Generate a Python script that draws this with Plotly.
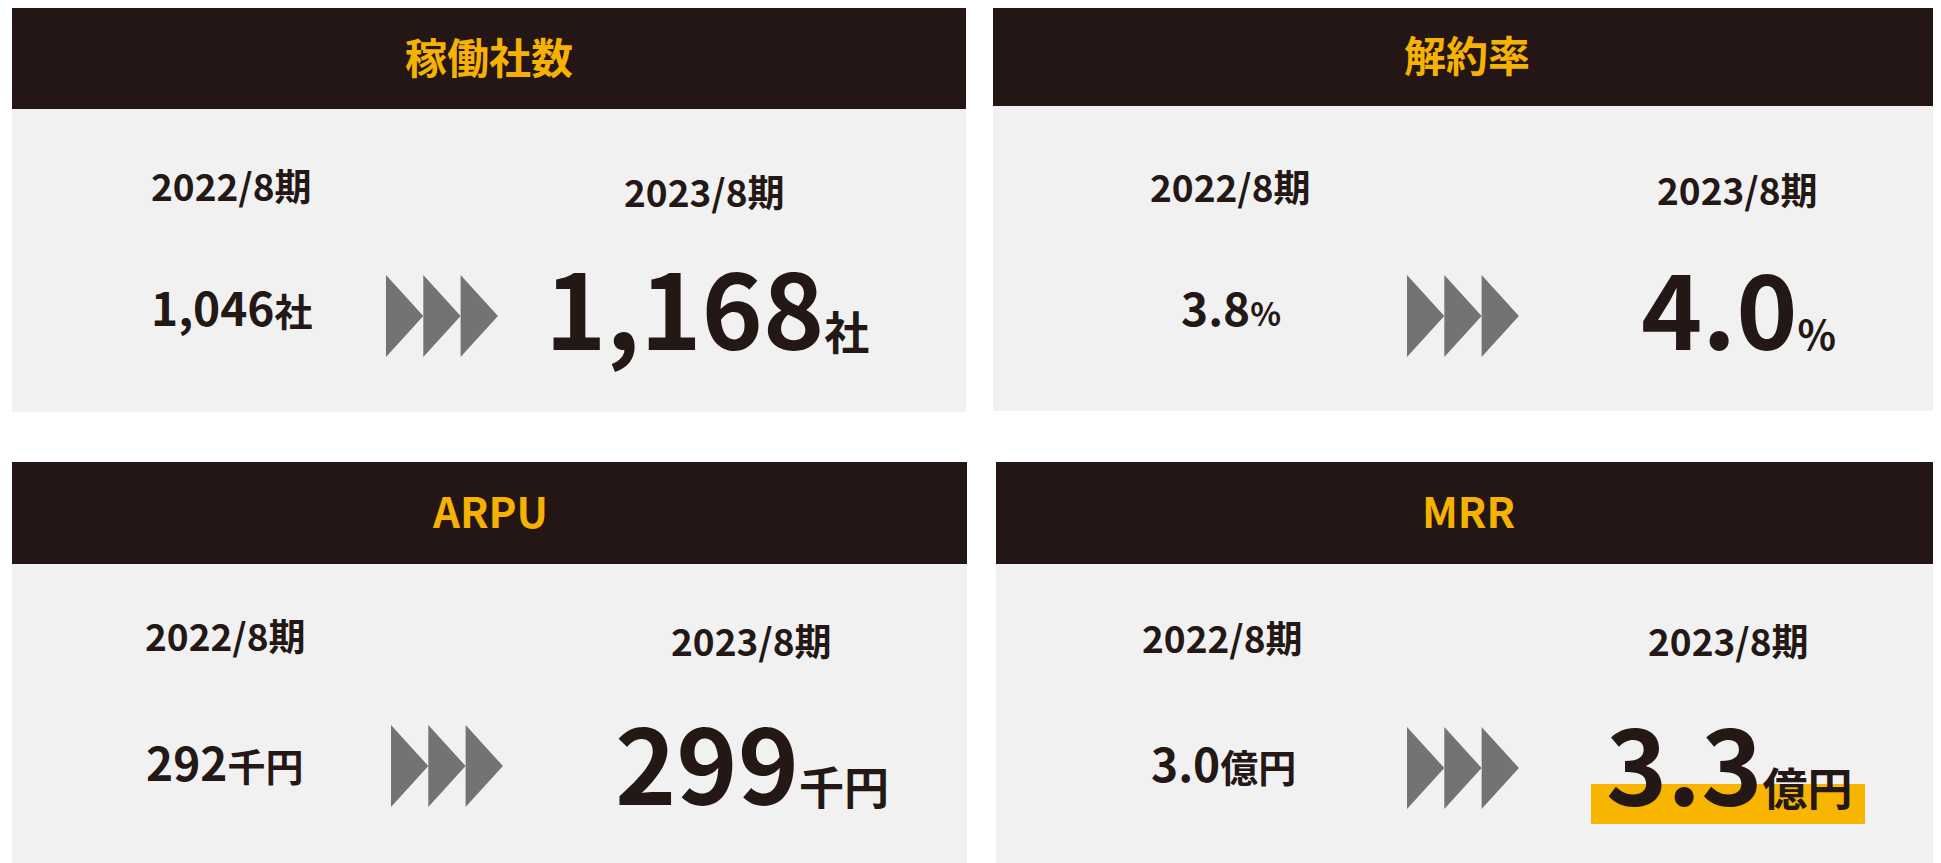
import plotly.graph_objects as go

# ---- data ----
titles = ["稼働社数", "解約率", "ARPU", "MRR"]
period_labels = ["2022/8期", "2023/8期"]
prev_values = ["1,046", "3.8", "292", "3.0"]
curr_values = ["1,168", "4.0", "299", "3.3"]
units = ["社", "%", "千円", "億円"]
highlight = [False, False, False, True]

# ---- style ----
W, H = 1941, 863
OFF = 8  # page body margin
DARK = "#231615"
GOLD = "#F5B200"
BODY = "#F1F1F1"
TEXT = "#231815"
ARROW = "#737373"
HILITE = "#F7B500"
FONT = "Noto Sans CJK JP"

panels = [
    dict(x0=12, x1=966, hy0=7, hy1=109, by1=412, title_y=56, lab1=(231, 186), lab2=(704, 192),
         val_y=310, prev_x=232, curr_x=707, arr_x=386, arr_y=(275, 357)),
    dict(x0=993, x1=1941, hy0=5, hy1=106, by1=411, title_y=54, lab1=(1230, 187), lab2=(1737, 190),
         val_y=310, prev_x=1231, curr_x=1738, arr_x=1407, arr_y=(275, 357)),
    dict(x0=12, x1=967, hy0=462, hy1=564, by1=863, title_y=510, lab1=(225, 636), lab2=(751, 641),
         val_y=765, prev_x=224, curr_x=752, arr_x=391, arr_y=(725, 807)),
    dict(x0=996, x1=1941, hy0=462, hy1=564, by1=863, title_y=510, lab1=(1222, 638), lab2=(1728, 641),
         val_y=766, prev_x=1223, curr_x=1729, arr_x=1407, arr_y=(727, 809)),
]

fig = go.Figure()
shapes = []
annotations = []

for i, p in enumerate(panels):
    # header and body
    shapes.append(dict(type="rect", xref="x", yref="y", x0=p["x0"], x1=p["x1"], y0=p["hy0"], y1=p["hy1"],
                       fillcolor=DARK, line=dict(width=0), layer="below"))
    shapes.append(dict(type="rect", xref="x", yref="y", x0=p["x0"], x1=p["x1"], y0=p["hy1"], y1=p["by1"],
                       fillcolor=BODY, line=dict(width=0), layer="below"))
    if highlight[i]:
        shapes.append(dict(type="rect", xref="x", yref="y", x0=p["curr_x"] - 138, x1=p["curr_x"] + 136,
                           y0=p["val_y"] + 18, y1=p["val_y"] + 58,
                           fillcolor=HILITE, line=dict(width=0), layer="below"))
    # arrows (three triangles)
    tw = 37.3
    ay0, ay1 = p["arr_y"]
    for k in range(3):
        xa = p["arr_x"] + k * tw
        fig.add_trace(go.Scatter(
            x=[xa, xa + tw, xa, xa], y=[ay0, (ay0 + ay1) / 2, ay1, ay0],
            mode="lines", fill="toself", fillcolor=ARROW, line=dict(width=0, color=ARROW),
            hoverinfo="skip", showlegend=False))

    cx = (p["x0"] + p["x1"]) / 2
    annotations.append(dict(x=cx, y=p["title_y"] - 1, text=f"<b>{titles[i]}</b>", showarrow=False,
                            xanchor="center", yanchor="middle",
                            font=dict(family=FONT, size=42, color=GOLD)))
    annotations.append(dict(x=p["lab1"][0], y=p["lab1"][1] - 1, text=f"<b>{period_labels[0]}</b>", showarrow=False,
                            xanchor="center", yanchor="middle",
                            font=dict(family=FONT, size=37, color=TEXT)))
    annotations.append(dict(x=p["lab2"][0], y=p["lab2"][1] - 1, text=f"<b>{period_labels[1]}</b>", showarrow=False,
                            xanchor="center", yanchor="middle",
                            font=dict(family=FONT, size=37, color=TEXT)))
    usz_small = 32 if units[i] == "%" else 38
    annotations.append(dict(x=p["prev_x"], y=p["val_y"] - 4,
                            text=f"<b>{prev_values[i]}<span style='font-size:{usz_small}px'>{units[i]}</span></b>",
                            showarrow=False, xanchor="center", yanchor="middle",
                            font=dict(family=FONT, size=46, color=TEXT)))
    usz_big = 40 if units[i] == "%" else 45
    annotations.append(dict(x=p["curr_x"], y=p["val_y"] - 6,
                            text=f"<b>{curr_values[i]}<span style='font-size:{usz_big}px'>{units[i]}</span></b>",
                            showarrow=False, xanchor="center", yanchor="middle",
                            font=dict(family=FONT, size=104, color=TEXT)))

fig.update_layout(
    width=W - OFF, height=H - OFF,
    margin=dict(l=0, r=0, t=0, b=0),
    paper_bgcolor="white", plot_bgcolor="white",
    xaxis=dict(range=[OFF, W], visible=False, fixedrange=True),
    yaxis=dict(range=[H, OFF], visible=False, fixedrange=True),
    shapes=shapes, annotations=annotations, showlegend=False,
)

fig.write_html("out.html", config={"displayModeBar": False})
